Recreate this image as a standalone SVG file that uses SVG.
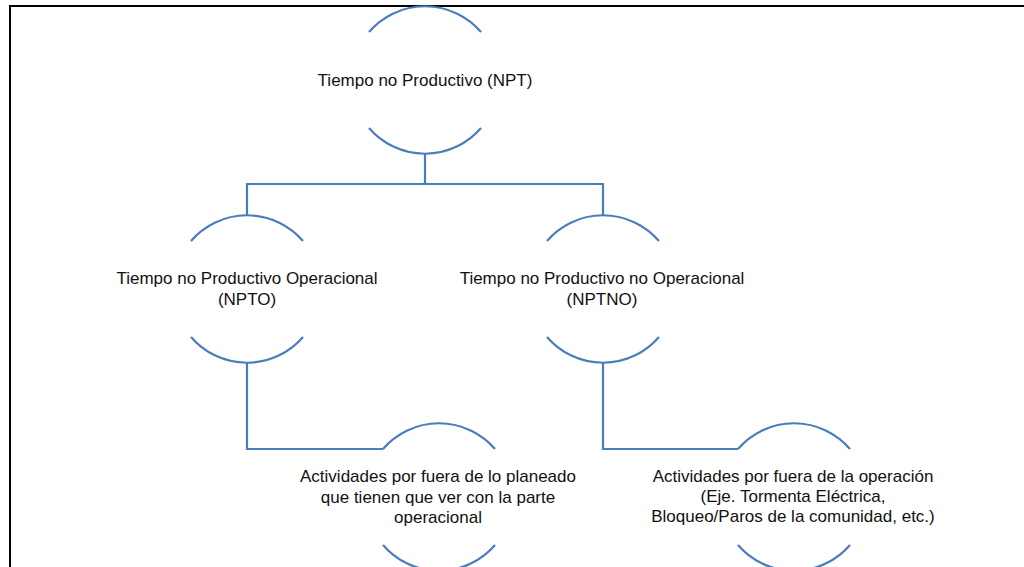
<svg xmlns="http://www.w3.org/2000/svg" width="1024" height="567" viewBox="0 0 1024 567">
  <style>
    .arc { fill: none; stroke: #4A7EBB; stroke-width: 2.2; }
    .link { fill: none; stroke: #4A7EBB; stroke-width: 2.2; }
    .label { font-family: "Liberation Sans", Arial, sans-serif; font-size: 17px; fill: #111; text-anchor: middle; }
  </style>
  <defs>
    <!-- top and bottom caps of a round node, centred on 0,0 -->
    <g id="cap">
      <path class="arc" d="M -56 -48 A 73.8 73.8 0 0 1 56 -48"/>
      <path class="arc" d="M -56 48 A 73.8 73.8 0 0 0 56 48"/>
    </g>
  </defs>
  <rect x="0" y="0" width="1024" height="567" fill="#fff"/>
  <!-- page frame -->
  <rect x="10" y="6" width="1040" height="600" fill="none" stroke="#000" stroke-width="2"/>

  <g id="connectors">
    <path class="link" d="M425 153.8 V184 M247 215.2 V184 H603 V215.2"/>
    <path class="link" d="M247 362.8 V449 H383"/>
    <path class="link" d="M603 362.8 V449 H738"/>
  </g>

  <g id="npt">
    <use href="#cap" x="425" y="80"/>
    <text class="label" x="425" y="86">Tiempo no Productivo (NPT)</text>
  </g>

  <g id="npto">
    <use href="#cap" x="247" y="289"/>
    <text class="label" x="247" y="284">Tiempo no Productivo Operacional</text>
    <text class="label" x="247" y="305">(NPTO)</text>
  </g>

  <g id="nptno">
    <use href="#cap" x="603" y="289"/>
    <text class="label" x="602" y="284">Tiempo no Productivo no Operacional</text>
    <text class="label" x="602" y="305">(NPTNO)</text>
  </g>

  <g id="actividades-operacionales">
    <use href="#cap" x="439" y="497"/>
    <text class="label" x="438" y="482">Actividades por fuera de lo planeado</text>
    <text class="label" x="438" y="503">que tienen que ver con la parte</text>
    <text class="label" x="438" y="523">operacional</text>
  </g>

  <g id="actividades-externas">
    <use href="#cap" x="794" y="497"/>
    <text class="label" x="793" y="482">Actividades por fuera de la operación</text>
    <text class="label" x="793" y="502">(Eje. Tormenta Eléctrica,</text>
    <text class="label" x="793" y="522">Bloqueo/Paros de la comunidad, etc.)</text>
  </g>
</svg>
